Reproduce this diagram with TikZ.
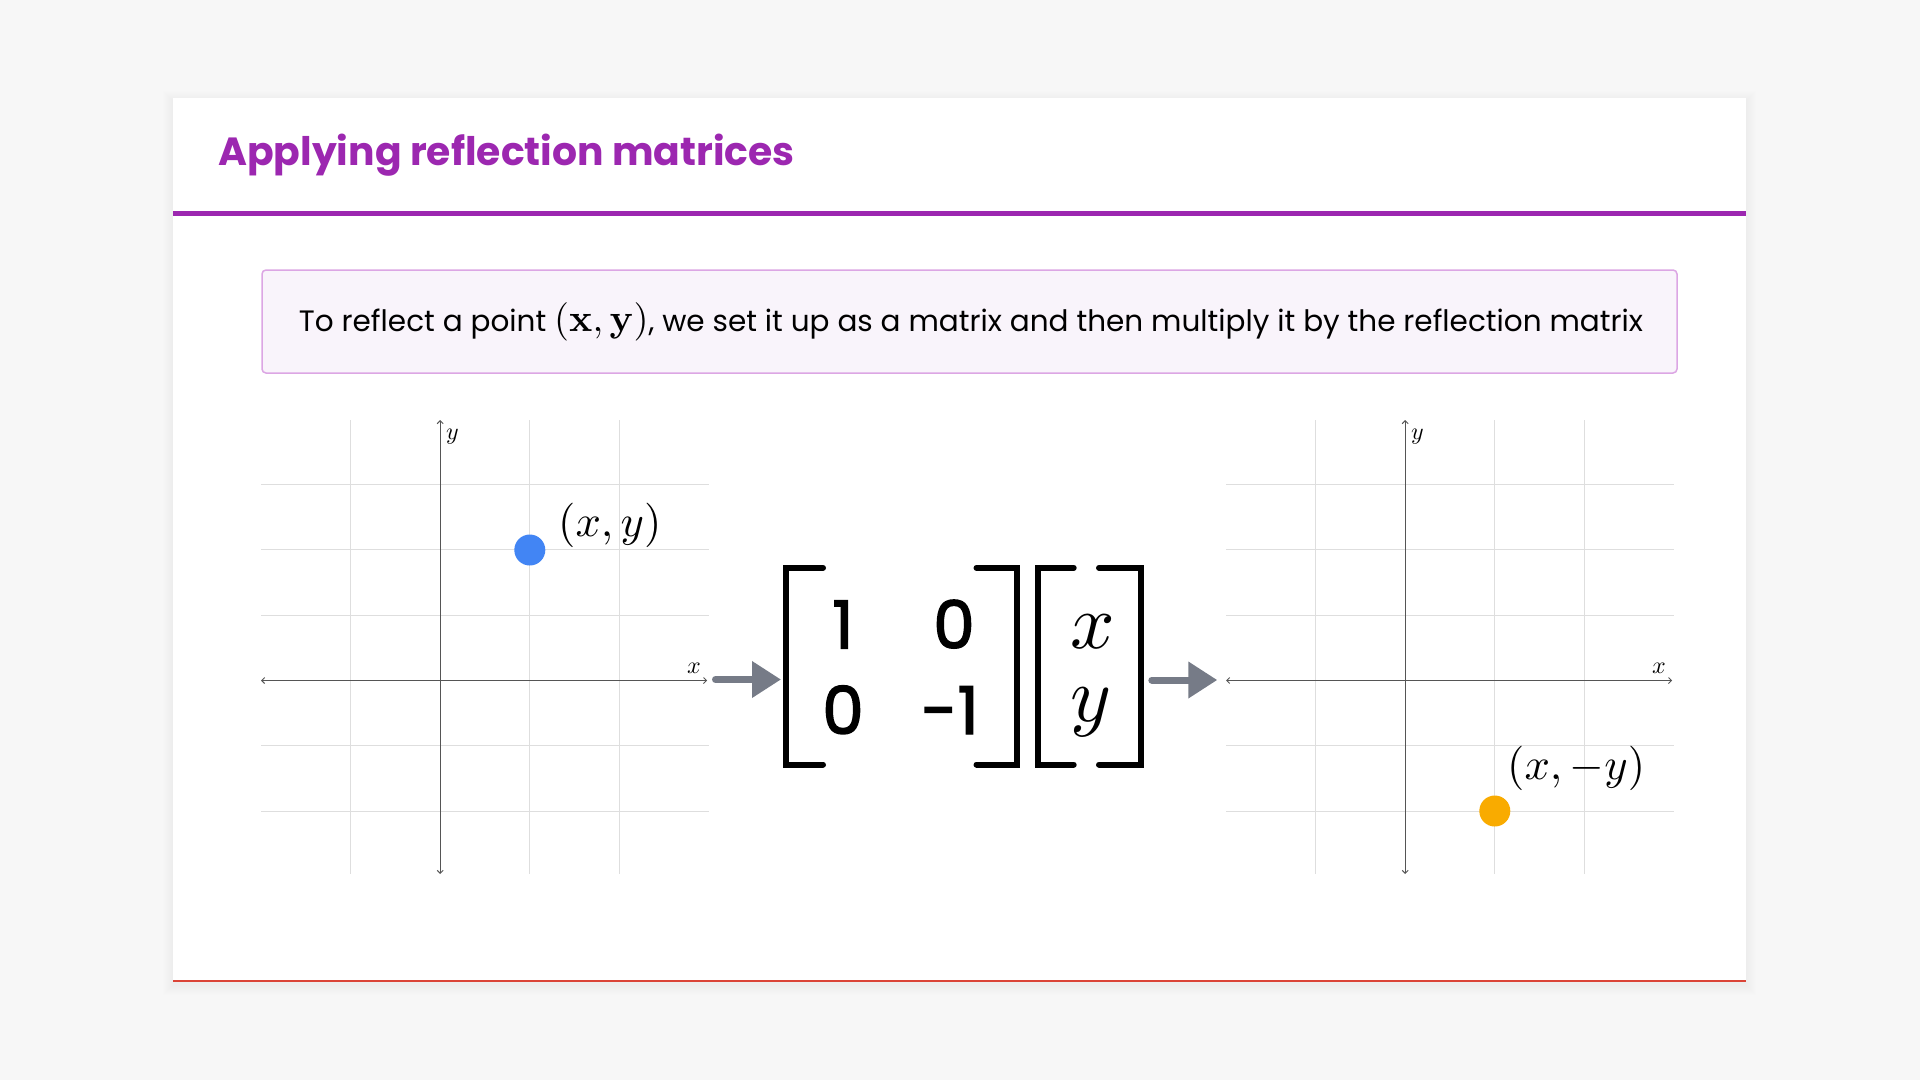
\documentclass[tikz,border=0pt]{standalone}
\usepackage[no-math]{fontspec}
\setmainfont{Poppins}
\newfontfamily\digitfont{Poppins}[FakeBold=2.2]
\DeclareFontShape{OT1}{cmr}{m}{n}{<->cmr10}{}
\DeclareFontShape{OT1}{cmr}{bx}{n}{<->cmbx10}{}
\DeclareFontShape{OML}{cmm}{m}{it}{<->cmmi10}{}
\DeclareFontShape{OMS}{cmsy}{m}{n}{<->cmsy10}{}
\DeclareFontShape{OMX}{cmex}{m}{n}{<->cmex10}{}
\usetikzlibrary{arrows.meta}
\definecolor{bgc}{HTML}{F7F7F7}
\definecolor{titlepurple}{HTML}{9C27B0}
\definecolor{boxborder}{HTML}{DCA6E4}
\definecolor{boxfill}{HTML}{F9F4FB}
\definecolor{gridc}{HTML}{DEDEDE}
\definecolor{axisc}{HTML}{555555}
\definecolor{ptblue}{HTML}{4285F4}
\definecolor{ptorange}{HTML}{F9AB00}
\definecolor{arrowgray}{HTML}{767B87}
\definecolor{cardred}{HTML}{DB4437}
\tikzset{
  gridline/.style={draw=gridc, line width=1.1pt},
  axisline/.style={draw=axisc, line width=1pt, {Straight Barb[length=3pt,width=6pt]}-{Straight Barb[length=3pt,width=6pt]}},
  axislab/.style={inner sep=0pt, font=\fontsize{24}{24}\selectfont},
  ptlab/.style={inner sep=0pt, anchor=base west, font=\fontsize{44.5}{44.5}\selectfont},
  dot/.style={circle, inner sep=0pt, minimum size=31pt},
  bigarrow/.style={draw=arrowgray, line width=7pt, line cap=round, -{Triangle[length=29pt,width=35pt]}, arrowgray},
  bracket/.style={draw=black, line width=6pt, line cap=round, line join=miter},
  entry/.style={inner sep=0pt, anchor=base, font=\fontsize{66}{66}\digitfont},
  ventry/.style={inner sep=0pt, anchor=base, font=\fontsize{78}{78}\selectfont},
}
\newcommand{\drawgraph}[1]{%
  \begin{scope}[shift={(#1,680.5)}]
    \foreach \i in {-1,1,2} \draw[gridline] (\i*89.6,-260.5) -- (\i*89.6,193.5);
    \foreach \j in {-2,-1,1,2,3} \draw[gridline] (-179.2,-\j*65.3) -- (268.8,-\j*65.3);
    \draw[axisline] (-179.2,0) -- (267,0);
    \draw[axisline] (0,193.5) -- (0,-260.5);
  \end{scope}}
\begin{document}
\begin{tikzpicture}[x=1pt,y=-1pt]
\useasboundingbox (0,0) rectangle (1920,1080);
\fill[bgc] (0,0) rectangle (1920,1080);
% card shadow
\foreach \k in {1,...,10} \fill[black, opacity=0.005] (173-\k,98-\k+3) rectangle (1746+\k,982+\k+3);
\fill[white] (173,98) rectangle (1746,982);
\fill[titlepurple] (173,210.5) rectangle (1746,215.5);
\draw[cardred, line width=1.6pt] (173,981.2) -- (1746,981.2);
\node[anchor=base west, inner sep=0pt, text=titlepurple, font=\fontsize{39.3}{40}\selectfont\bfseries] (title) at (218,165) {Applying reflection matrices};
% intro box
\node[draw=boxborder, fill=boxfill, line width=1.5pt, rounded corners=4pt, minimum width=1415pt, minimum height=103pt, inner sep=0pt] (intro) at (969.5,321.5) {};
\node[inner sep=0pt, anchor=base, font=\fontsize{29.5}{34}\selectfont] (introtext) at (971,331)
  {To reflect a point {\fontsize{38.5}{38.5}\selectfont$(\mathbf{x},\mathbf{y})$}, we set it up as a matrix and then multiply it by the reflection matrix};
% left graph
\drawgraph{440.2}
\node[axislab, anchor=base west] (ly) at (446,439) {$y$};
\node[axislab, anchor=base east] (lx) at (701,673) {$x$};
\node[dot, fill=ptblue] (p1) at (529.8,550.0) {};
\node[ptlab] (p1lab) at (558,536) {$(x,y)$};
% right graph
\drawgraph{1405.2}
\node[axislab, anchor=base west] (ry) at (1411,439) {$y$};
\node[axislab, anchor=base east] (rx) at (1666,673) {$x$};
\node[dot, fill=ptorange] (p2) at (1494.8,811.0) {};
\node[ptlab] (p2lab) at (1507,779) {$(x,-y)$};
% matrix
\draw[bracket] (823,567.8) -- (786.3,567.8) -- (786.3,764.5) -- (823,764.5);
\draw[bracket] (976.5,567.8) -- (1016.5,567.8) -- (1016.5,764.5) -- (976.5,764.5);
\node[entry] (m11) at (843,648.3) {1};
\node[entry] (m12) at (954,648.3) {0};
\node[entry] (m21) at (843,734) {0};
\node[entry] (m22) at (950,734) {-1};
% vector
\draw[bracket] (1073.7,567.8) -- (1037.8,567.8) -- (1037.8,764.5) -- (1073.7,764.5);
\draw[bracket] (1099,567.8) -- (1141.2,567.8) -- (1141.2,764.5) -- (1099,764.5);
\node[ventry] (vx) at (1092.5,648.3) {$x$};
\node[ventry] (vy) at (1091.5,721) {$y$};
% arrows
\coordinate (a1s) at (715.5,679.5);
\coordinate (a1e) at (781,679.5);
\coordinate (a2s) at (1151.8,680);
\coordinate (a2e) at (1217.3,680);
\draw[bigarrow] (a1s) -- (a1e);
\draw[bigarrow] (a2s) -- (a2e);
\end{tikzpicture}
\end{document}
